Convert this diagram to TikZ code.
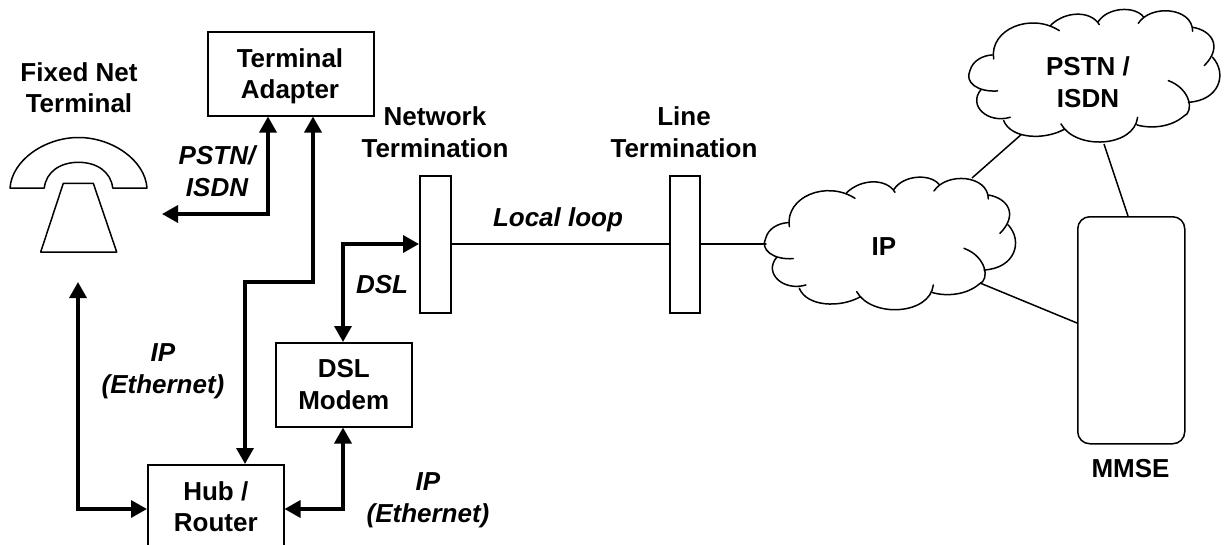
\documentclass[tikz,border=0pt]{standalone}
\usepackage{fontspec}
\setmainfont{Liberation Sans}
\usetikzlibrary{arrows.meta}
\tikzset{
  thinbox/.style={draw=black,line width=1.5pt,fill=white,inner sep=0pt},
  thinline/.style={draw=black,line width=1.5pt},
  lbl/.style={font=\fontsize{26}{31.5}\selectfont\bfseries,align=center,inner sep=0pt},
  ilbl/.style={font=\fontsize{26}{31.5}\selectfont\bfseries\itshape,align=center,inner sep=0pt},
  link/.style={line width=3.4pt,line join=miter,{Triangle[length=16pt,width=17pt]}-{Triangle[length=16pt,width=17pt]}},
}
\newcommand{\cloudshape}[2]{%
\begin{scope}[shift={(#1,#2)},x=0.3333pt,y=-0.3333pt]
\fill[white] (143,665) .. controls (130,590) and (250,540) .. (330,585) .. controls (370,535) and (440,535) .. (465,570) .. controls (500,525) and (570,520) .. (597,553) .. controls (640,515) and (740,530) .. (747,585) .. controls (800,595) and (835,640) .. (806,675) .. controls (850,720) and (820,805) .. (732,810) .. controls (735,850) and (660,905) .. (580,878) .. controls (550,945) and (400,950) .. (352,885) .. controls (300,925) and (190,915) .. (178,862) .. controls (110,875) and (75,810) .. (105,772) .. controls (70,760) and (60,680) .. (143,668) -- cycle;
\draw[thinline,line cap=round]
 (148,680) .. controls (135,590) and (260,540) .. (345,595)
 (320,578) .. controls (365,535) and (440,535) .. (465,577)
 (462,568) .. controls (490,525) and (570,520) .. (597,553)
 (582,573) .. controls (620,515) and (745,525) .. (745,597)
 (745,585) .. controls (805,595) and (835,645) .. (780,700)
 (805,675) .. controls (850,725) and (825,805) .. (732,810)
 (672,745) .. controls (740,770) and (750,840) .. (718,852) .. controls (680,885) and (620,890) .. (578,878)
 (580,855) .. controls (570,945) and (395,955) .. (350,875)
 (362,890) .. controls (300,925) and (200,920) .. (178,865)
 (198,855) .. controls (130,875) and (70,820) .. (110,772)
 (160,776) .. controls (100,780) and (60,750) .. (77,715) .. controls (85,685) and (115,670) .. (143,668);
\end{scope}}
\begin{document}
\begin{tikzpicture}[x=1pt,y=-1pt]
\useasboundingbox (0,0) rectangle (1224,544);
% free ends and bend points
\coordinate (ipA) at (972,178);
\coordinate (psB) at (1023,133);
\coordinate (ipC) at (980,283);
\coordinate (psD) at (1104,144);
\coordinate (ipL) at (768,244);
\coordinate (phoneA) at (162,214);
\coordinate (phoneB) at (78,282);
\coordinate (bendA) at (268,214);
\coordinate (bendB1) at (313,282);
\coordinate (bendB2) at (245,282);
\coordinate (bendC) at (78,509);
\coordinate (bendD) at (343,509);
\coordinate (bendE) at (343,244);
% boxes
\node[thinbox,anchor=north west,minimum width=166pt,minimum height=84pt] (ta) at (207,31) {};
\node[thinbox,anchor=north west,minimum width=136pt,minimum height=84pt,lbl] (modem) at (275,342) {DSL\\Modem};
\node[thinbox,anchor=north west,minimum width=136pt,minimum height=84pt,lbl] (hub) at (147,464) {Hub /\\Router};
\node[thinbox,anchor=north west,minimum width=31pt,minimum height=137pt] (nt) at (419,175) {};
\node[thinbox,anchor=north west,minimum width=30pt,minimum height=137pt] (lt) at (669,175) {};
\node[thinbox,anchor=north west,rounded corners=12pt,minimum width=107pt,minimum height=227pt] (mmse) at (1077,216) {};
% thin connectors
\draw[thinline] (nt.east |- ipL) -- (lt.west |- ipL);
\draw[thinline] (lt.east |- ipL) -- (ipL);
\draw[thinline] (ipA) -- (psB);
\draw[thinline] (psD) -- (1128,216);
\draw[thinline] (ipC) -- (1077,323);
% clouds
\cloudshape{740}{0}
\cloudshape{944.3}{-167.7}
% phone
\draw[thinline,line join=round] (10,188) .. controls (12,160) and (45,137.5) .. (78.5,137.5) .. controls (112,137.5) and (145,160) .. (147,188) -- (112.7,188) .. controls (111,172) and (97,162.3) .. (78.5,162.3) .. controls (60,162.3) and (46,172) .. (44.3,188) -- cycle;
\draw[thinline,line join=round] (63.3,183.3) -- (93.3,183.3) -- (116.7,252) -- (40.7,252) -- cycle;
% thick connectors
\draw[link] (ta.south -| bendA) -- (bendA) -- (phoneA);
\draw[link] (ta.south -| bendB1) -- (bendB1) -- (bendB2) -- (hub.north -| bendB2);
\draw[link] (phoneB) -- (bendC) -- (hub.west |- bendC);
\draw[link] (hub.east |- bendD) -- (bendD) -- (modem.south -| bendD);
\draw[link] (modem.north -| bendE) -- (bendE) -- (nt.west |- bendE);
% labels
\node[lbl] (l0) at (290,76.2) {Terminal\\Adapter};
\node[lbl] (l1) at (79,87.5) {Fixed Net\\Terminal};
\node[lbl] (l2) at (435,132) {Network\\Termination};
\node[lbl] (l3) at (684,132) {Line\\Termination};
\node[lbl] (l4) at (1088,82.4) {PSTN /\\ISDN};
\node[lbl] (l5) at (884,246.6) {IP};
\node[lbl] (l6) at (1130.5,468.6) {MMSE};
\node[ilbl] (l7) at (217,171.4) {PSTN/\\ISDN};
\node[ilbl] (l8) at (163,371) {IP\\(Ethernet)};
\node[ilbl] (l9) at (428,500) {IP\\(Ethernet)};
\node[ilbl] (l10) at (382,284.6) {DSL};
\node[ilbl] (l11) at (558,219.4) {Local loop};
\end{tikzpicture}
\end{document}
